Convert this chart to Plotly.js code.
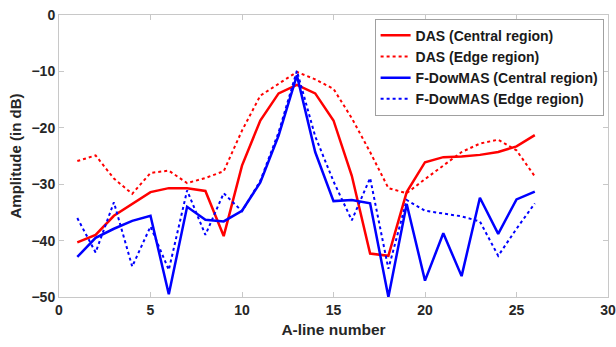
<!DOCTYPE html>
<html>
<head>
<meta charset="utf-8">
<script src="https://cdn.plot.ly/plotly-3.0.1.min.js"></script>
<style>html,body{margin:0;padding:0;background:#fff;}#chart{width:616px;height:347px;}</style>
</head>
<body>
<div id="chart"></div>
<script>
const aLine = [1,2,3,4,5,6,7,8,9,10,11,12,13,14,15,16,17,18,19,20,21,22,23,24,25,26];
const dasCentral = [-40.3,-39.0,-35.6,-33.5,-31.4,-30.7,-30.7,-31.2,-39.2,-26.7,-18.7,-13.9,-12.4,-13.9,-18.7,-28.5,-42.3,-42.7,-31.4,-26.1,-25.2,-25.1,-24.8,-24.3,-23.3,-21.3];
const dasEdge = [-25.9,-24.9,-29.0,-31.7,-28.0,-27.6,-29.8,-28.9,-27.7,-20.5,-14.3,-12.2,-10.1,-11.4,-13.1,-18.3,-24.3,-30.7,-31.6,-29.1,-26.7,-24.3,-22.8,-22.1,-24.0,-28.6];
const fdmCentral = [-42.9,-39.5,-37.9,-36.5,-35.6,-49.5,-34.0,-36.3,-36.6,-34.7,-29.7,-21.4,-10.7,-24.3,-33.0,-32.8,-33.4,-50.0,-33.5,-47.1,-38.7,-46.3,-32.4,-38.8,-32.7,-31.3];
const fdmEdge = [-36.0,-42.1,-33.2,-44.6,-37.5,-45.2,-31.1,-39.0,-31.6,-34.8,-29.4,-20.8,-9.9,-21.5,-29.5,-36.4,-28.9,-45.0,-32.8,-34.7,-35.2,-35.7,-36.6,-42.7,-37.9,-33.4];
const seriesNames = ["DAS (Central region)","DAS (Edge region)","F-DowMAS (Central region)","F-DowMAS (Edge region)"];

const mk = (y, name, color, dash, w) => ({
  x: aLine, y: y, name: name, type: 'scatter', mode: 'lines',
  line: {color: color, dash: dash, width: w}
});
const data = [
  mk(dasCentral, seriesNames[0], '#ff0000', 'solid', 2.5),
  mk(dasEdge, seriesNames[1], '#ff0000', 'dot', 2),
  mk(fdmCentral, seriesNames[2], '#0000ff', 'solid', 2.5),
  mk(fdmEdge, seriesNames[3], '#0000ff', 'dot', 2)
];
const fontFam = 'Arial, "Liberation Sans", sans-serif';
const axisCommon = {
  showgrid: false, zeroline: false, showline: true, mirror: 'ticks',
  linecolor: '#c8c8c8', linewidth: 1, ticks: 'inside', ticklen: 5,
  tickcolor: '#c8c8c8', tickfont: {family: fontFam, size: 14, color: '#262626', weight: 'bold'}
};
const layout = {
  width: 616, height: 347,
  margin: {l: 59, r: 8, t: 15, b: 50},
  paper_bgcolor: '#fff', plot_bgcolor: '#fff',
  showlegend: true,
  xaxis: Object.assign({}, axisCommon, {
    range: [0, 30], tickvals: [0,5,10,15,20,25,30],
    title: {text: 'A-line number', font: {family: fontFam, size: 15.5, color: '#262626', weight: 'bold'}, standoff: 7}
  }),
  yaxis: Object.assign({}, axisCommon, {
    range: [-50, 0], tickvals: [-50,-40,-30,-20,-10,0],
    title: {text: 'Amplitude (in dB)', font: {family: fontFam, size: 15, color: '#262626', weight: 'bold'}, standoff: 6}
  }),
  legend: {
    x: 0.992, y: 0.987, xanchor: 'right', yanchor: 'top',
    bgcolor: '#fff', bordercolor: '#a0a0a0', borderwidth: 1,
    font: {family: fontFam, size: 14, color: '#1a1a1a', weight: 'bold'},
    tracegroupgap: 0, itemwidth: 30
  }
};
Plotly.newPlot('chart', data, layout, {displayModeBar: false, staticPlot: true});
</script>
</body>
</html>
